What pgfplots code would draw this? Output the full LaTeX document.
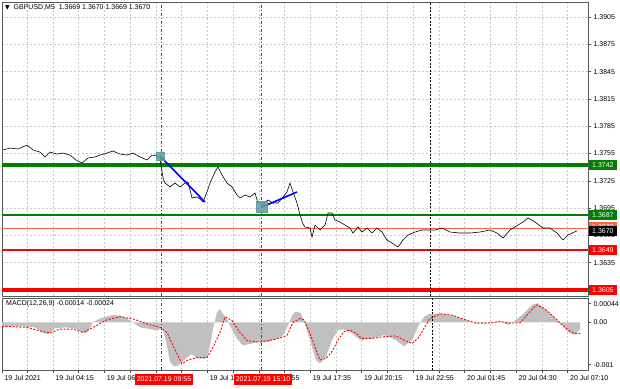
\documentclass[border=0pt]{standalone}
\usepackage{pgfplots}
\pgfplotsset{compat=1.18}
\usepackage{fontspec}
\setmainfont{Liberation Sans}
\newfontfamily\dejavu{DejaVu Sans}
\definecolor{mtgreen}{RGB}{0,128,0}
\definecolor{mtred}{RGB}{255,0,0}
\definecolor{mtorange}{RGB}{255,99,71}
\definecolor{mtgrid}{RGB}{200,200,200}
\definecolor{mtsilver}{RGB}{192,192,192}
\definecolor{mtteal}{RGB}{95,158,160}
\definecolor{mtblue}{RGB}{0,0,255}
\begin{document}
\begin{tikzpicture}[x=1pt,y=1pt]
\path[use as bounding box] (0,0) rectangle (620,388);
\pgfplotsset{mtbase/.style={
  scale only axis, width=586pt, xmin=2, xmax=588, clip=false,
  axis line style={black!65, line width=1pt},
  font=\fontsize{7}{8}\selectfont,
  /pgf/number format/assume math mode=true,
  xtick={2,27.2,53.0,78.7,104.4,130.2,155.9,181.6,207.3,233.1,258.8,284.5,310.3,336.0,361.7,387.5,413.2,438.9,464.6,490.4,516.1,541.8,567.6},
  xmajorgrids,
  grid style={mtgrid, line width=0.5pt, dash pattern=on 2pt off 2pt},
  tick style={black!70, line width=0.6pt},
  tick align=outside, major tick length=3pt,
  ytick pos=right, yticklabel pos=right,
  yticklabel style={anchor=west, xshift=-1pt},
  scaled y ticks=false,
}}
% ---------------- main price panel ----------------
\begin{axis}[mtbase, at={(2pt,92pt)}, anchor=south west, height=293pt,
  ymin=1.35984, ymax=1.39204,
  ytick={1.3605,1.3635,1.3665,1.3695,1.3725,1.3755,1.3785,1.3815,1.3845,1.3875,1.3905},
  yticklabels={1.3605,1.3635,1.3665,1.3695,1.3725,1.3755,1.3785,1.3815,1.3845,1.3875,1.3905},
  ymajorgrids, xticklabels={}, xtick style={draw=none}]
% level lines
\addplot[mtgreen, line width=4pt] coordinates {(2,1.3742) (588,1.3742)};
\addplot[mtgreen, line width=2pt] coordinates {(2,1.3687) (588,1.3687)};
\addplot[mtorange, line width=1pt] coordinates {(2,1.3673) (588,1.3673)};
\addplot[mtred, line width=2pt] coordinates {(2,1.3649) (588,1.3649)};
\addplot[mtred, line width=4pt] coordinates {(2,1.3605) (588,1.3605)};
% vertical markers
\addplot[mtred, line width=0.8pt, dash pattern=on 3pt off 2pt on 1pt off 2pt] coordinates {(161,1.35984) (161,1.39204)};
\addplot[mtred, line width=0.8pt, dash pattern=on 3pt off 2pt on 1pt off 2pt] coordinates {(261,1.35984) (261,1.39204)};
\addplot[black, line width=0.8pt, dash pattern=on 2pt off 1.5pt] coordinates {(430,1.35984) (430,1.39204)};
% entry boxes
\addplot[only marks, mark=square*, mark size=4pt, mark options={fill=mtteal, draw=mtteal, fill opacity=0.85}] coordinates {(160,1.37522)};
\addplot[only marks, mark=square*, mark size=5.5pt, mark options={fill=mtteal, draw=mtteal, fill opacity=0.85}] coordinates {(262,1.36962)};
% price
\addplot[black, line width=0.6pt] coordinates {
(3,1.37589) (10,1.37610) (18,1.37600) (27,1.37643) (33,1.37589) (40,1.37566) (45,1.37512) (50,1.37566) (57,1.37544) (63,1.37555) (70,1.37533) (76,1.37479) (82,1.37446) (88,1.37501) (95,1.37512) (100,1.37533) (107,1.37555) (113,1.37577) (120,1.37544) (127,1.37533) (133,1.37555) (140,1.37512) (147,1.37479) (152,1.37533) (157,1.37522) (160,1.37501)
(163,1.37281) (165,1.37226) (170,1.37182) (175,1.37226) (180,1.37182) (185,1.37226) (188,1.37237) (192,1.37061) (197,1.37072) (200,1.37050) (203,1.37017) (207,1.37127) (210,1.37226) (215,1.37347) (218,1.37402) (222,1.37314) (227,1.37226) (232,1.37182) (237,1.37094) (240,1.37061) (245,1.37094) (250,1.37072) (255,1.37116) (258,1.37006) (262,1.36984) (265,1.37017) (268,1.37039) (273,1.37006) (278,1.37006) (283,1.37072) (287,1.37127) (290,1.37226) (293,1.37127) (297,1.37006)
(300,1.36874) (303,1.36775) (305,1.36742) (310,1.36731) (312,1.36632) (315,1.36764) (320,1.36709) (325,1.36764) (328,1.36896) (332,1.36896) (335,1.36819) (340,1.36797) (345,1.36764) (350,1.36731) (353,1.36676) (358,1.36742) (362,1.36687) (367,1.36731) (372,1.36676) (377,1.36731) (382,1.36687) (387,1.36599) (392,1.36566) (398,1.36522) (403,1.36599) (408,1.36654) (415,1.36687) (422,1.36709) (428,1.36709) (435,1.36709) (442,1.36731)
(450,1.36687) (460,1.36676) (470,1.36676) (480,1.36687) (490,1.36709) (497,1.36676) (503,1.36621) (510,1.36709) (518,1.36764) (523,1.36797) (528,1.36841) (535,1.36797) (543,1.36731) (550,1.36731) (557,1.36676) (563,1.36599) (568,1.36654) (577,1.36700)};
% trend lines
\addplot[mtblue, line width=1.6pt] coordinates {(160,1.37522) (205,1.37017)};
\addplot[mtblue, line width=1.6pt] coordinates {(262,1.36962) (297,1.37127)};
\coordinate (L1) at (axis cs:588,1.3742);
\coordinate (L2) at (axis cs:588,1.3687);
\coordinate (L3) at (axis cs:588,1.3673);
\coordinate (L4) at (axis cs:588,1.3670);
\coordinate (L5) at (axis cs:588,1.3649);
\coordinate (L6) at (axis cs:588,1.3605);
\end{axis}
% ---------------- MACD panel ----------------
\begin{axis}[mtbase, at={(2pt,18pt)}, anchor=south west, height=72pt,
  ymin=-0.001125, ymax=0.000573,
  ytick={-0.001,0,0.00044}, yticklabels={-0.001,0.00,0.00044},
  xtick pos=bottom,
  xticklabels={19 Jul 2021,,19 Jul 04:15,,19 Jul 06:55,,,,19 Jul 12:15,,19 Jul 14:55,,19 Jul 17:35,,19 Jul 20:15,,19 Jul 22:55,,20 Jul 01:45,,20 Jul 04:30,,20 Jul 07:10},
  xticklabel style={anchor=north west, xshift=-1pt, yshift=1pt}]
\addplot[fill=mtsilver, draw=none] coordinates {
(2,0) (2,-0.000094) (20,-0.000094) (35,-0.00012) (43,-0.00025) (48,-0.00028) (55,-0.00014) (65,-0.00012) (75,-0.00014) (82,-0.00024) (87,-0.00025) (93,0) (100,0.00009) (107,0.00014) (113,0.00017) (120,0.00016) (127,0.00009) (133,0) (140,-0.00012) (150,-0.00016) (158,-0.0002) (162,-0.00008) (167,-0.00055) (170,-0.00094) (174,-0.00104) (178,-0.00102) (182,-0.00094) (187,-0.00083) (192,-0.00075) (197,-0.00085) (202,-0.00086) (207,-0.00085) (210,-0.00055) (213,-0.00016) (217,0.00024) (220,0.00031) (223,0.0002) (227,0.00008) (230,-0.00008) (237,-0.00039) (243,-0.00055) (250,-0.00051) (258,-0.00047) (267,-0.00047) (277,-0.00039) (283,-0.00031) (288,-0.00008) (292,0.00016) (295,0.00024)
(298,0.00025) (301,0.00021) (304,0.00002) (310,-0.00042) (316,-0.00089) (320,-0.00097) (326,-0.00081) (332,-0.00042) (338,-0.00018) (344,-0.00017) (352,-0.00026) (360,-0.00042) (372,-0.00038) (384,-0.0003) (396,-0.00042) (404,-0.00057) (412,-0.00042) (418,-0.0001) (424,0.00013) (430,0.0002) (440,0.0002) (452,0.00017) (464,0.00006) (476,-0.00002) (488,-0.00001) (500,0.00002) (508,-0.00006) (516,0.00006) (524,0.00021) (532,0.00041) (538,0.00045) (544,0.00033) (552,0.00017) (560,-0.00002) (568,-0.00022) (574,-0.0003) (580,-0.00018) (580,0)} -- cycle;
\addplot[mtred, line width=0.9pt, dash pattern=on 2pt off 1.5pt] coordinates {
(2,-0.000094) (27,-0.00012) (43,-0.00022) (50,-0.00025) (60,-0.00016) (73,-0.00016) (83,-0.00024) (93,-0.00012) (107,0.00006) (120,0.00013) (133,0.00008) (150,-0.00006) (160,-0.00012) (167,-0.00024) (173,-0.00055) (182,-0.00098) (187,-0.0009) (197,-0.00083) (207,-0.00083) (213,-0.00059) (220,-0.00024) (225,0.00013) (232,0.00004) (240,-0.00024) (247,-0.00043) (260,-0.00047) (277,-0.00039) (287,-0.00031) (293,0)
(300,0.00009) (304,0.00006) (310,-0.00026) (316,-0.00065) (320,-0.00089) (326,-0.00085) (332,-0.00069) (338,-0.00042) (344,-0.00022) (350,-0.00018) (356,-0.00026) (362,-0.00038) (372,-0.00038) (384,-0.00034) (396,-0.00032) (404,-0.00042) (412,-0.0005) (418,-0.00038) (424,-0.00014) (430,0.00009) (440,0.0002) (452,0.00017) (464,0.00007) (476,-0.00002) (488,-0.00002) (500,0.00002) (510,-0.00002) (520,-0.00001) (530,0.00025) (536,0.00041) (544,0.00033) (552,0.00017) (560,-0.00002) (568,-0.00018) (574,-0.00026) (580,-0.00026)};
\addplot[mtred, line width=0.8pt, dash pattern=on 3pt off 2pt on 1pt off 2pt] coordinates {(161,-0.001125) (161,0.000573)};
\addplot[mtred, line width=0.8pt, dash pattern=on 3pt off 2pt on 1pt off 2pt] coordinates {(261,-0.001125) (261,0.000573)};
\addplot[black, line width=0.8pt, dash pattern=on 2pt off 1.5pt] coordinates {(432,-0.001125) (432,0.000573)};
\end{axis}
% ---------------- overlays ----------------
\tikzset{lbl/.style={anchor=west, text=white, inner xsep=3pt, inner ysep=1pt, minimum height=10pt, font=\fontsize{7}{8}\selectfont}}
\node[lbl, fill=mtgreen] at ([xshift=1pt]L1) {1.3742};
\node[lbl, fill=mtgreen] at ([xshift=1pt]L2) {1.3687};
\node[lbl, fill=mtorange] at ([xshift=1pt,yshift=1pt]L3) {1.3673};
\node[lbl, fill=black] at ([xshift=1pt]L4) {1.3670};
\node[lbl, fill=mtred] at ([xshift=1pt]L5) {1.3649};
\node[lbl, fill=mtred] at ([xshift=1pt]L6) {1.3605};
\node[anchor=west, font=\fontsize{7}{8}\selectfont, inner sep=0pt] at (5,380) {{\dejavu\fontsize{6}{7}\selectfont ▼}\ \ GBPUSD,M5\ \ 1.3669 1.3670 1.3669 1.3670};
\node[anchor=west, font=\fontsize{7}{8}\selectfont, inner sep=0pt] at (6,84) {MACD(12,26,9) -0.00014 -0.00024};
\node[fill=mtred, text=white, inner xsep=2pt, inner ysep=1pt, minimum height=11pt, font=\fontsize{7}{8}\selectfont] at (164,9) {2021.07.19 09:55};
\node[fill=mtred, text=white, inner xsep=2pt, inner ysep=1pt, minimum height=11pt, font=\fontsize{7}{8}\selectfont] at (263,9) {2021.07.19 15:10};
\end{tikzpicture}
\end{document}
